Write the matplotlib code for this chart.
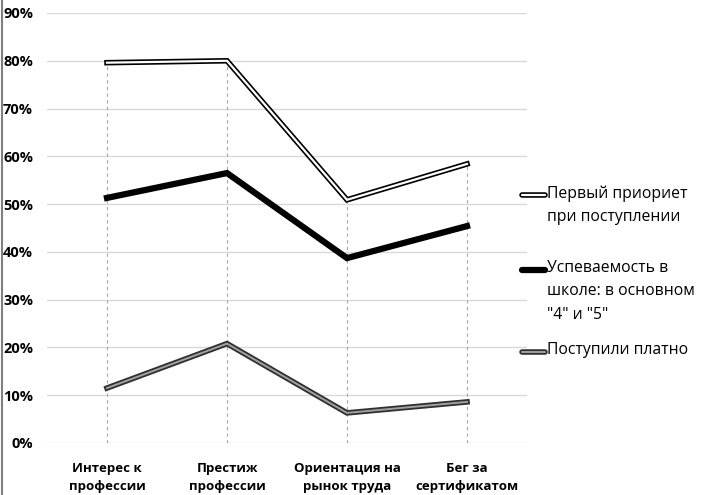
import matplotlib.pyplot as plt
from matplotlib.lines import Line2D
from matplotlib.ticker import PercentFormatter

plt.rcParams['font.family'] = ['Open Sans', 'DejaVu Sans']

categories = ["Интерес к\nпрофессии", "Престиж\nпрофессии",
              "Ориентация на\nрынок труда", "Бег за\nсертификатом"]
priority = [79.6, 80.0, 50.9, 58.4]
grades = [51.3, 56.5, 38.7, 45.4]
paid = [11.5, 20.8, 6.3, 8.6]

labels = ["Первый приориет\nпри поступлении",
          "Успеваемость в\nшколе: в основном\n\"4\" и \"5\"",
          "Поступили платно"]

fig = plt.figure(figsize=(7.2, 4.95), dpi=100)
ax = fig.add_axes([47/720, 1 - 443/495, 480/720, 430/495])

x = list(range(len(categories)))

# drop lines
tops = [max(a, b, c) for a, b, c in zip(priority, grades, paid)]
ax.vlines(x, 0, tops, colors='#a6a6a6', linestyles=(0, (3, 3)), lw=0.8, zorder=1)

# series (double lines = dark outline + light core)
ax.plot(x, priority, color='black', lw=4.0, solid_joinstyle='miter', zorder=3)
ax.plot(x, priority, color='white', lw=1.6, solid_joinstyle='miter', zorder=4)
ax.plot(x, grades, color='black', lw=4.5, solid_joinstyle='miter', zorder=3)
ax.plot(x, paid, color='#303030', lw=4.0, solid_joinstyle='miter', zorder=3)
ax.plot(x, paid, color='#a0a0a0', lw=1.4, solid_joinstyle='miter', zorder=4)

ax.set_xlim(-0.5, len(categories) - 0.5)
ax.set_ylim(0, 90)
ax.set_yticks(range(0, 91, 10))
ax.yaxis.set_major_formatter(PercentFormatter(decimals=0))
ax.grid(axis='y', color='#d9d9d9', lw=1)
ax.set_axisbelow(True)
for s in ax.spines.values():
    s.set_visible(False)
ax.tick_params(length=0)
ax.tick_params(axis='y', pad=10)
ax.tick_params(axis='x', pad=14)
ax.set_xticks(x)
ax.set_xticklabels(categories, fontsize=9.5, fontweight='bold', linespacing=1.5)
for t in ax.get_yticklabels():
    t.set_fontsize(10.5)
    t.set_fontweight('bold')

# manual legend
handles = [
    [('black', 4.0), ('white', 1.6)],
    [('black', 4.5)],
    [('#303030', 4.0), ('#a0a0a0', 1.4)],
]
ys = [195, 270, 352]
for h, lab, yy in zip(handles, labels, ys):
    yf = 1 - yy / 495
    for col, lw in h:
        fig.add_artist(Line2D([522/720, 545/720], [yf, yf], color=col, lw=lw,
                              solid_capstyle='round'))
    fig.text(547/720, 1 - (yy - 10) / 495, lab, fontsize=11.3, va='top', ha='left',
             linespacing=1.62, transform=fig.transFigure)

# left border
fig.add_artist(Line2D([2/720, 2/720], [0, 1], color='#7f7f7f', lw=1.5))

fig.savefig('out.png', dpi=100)
